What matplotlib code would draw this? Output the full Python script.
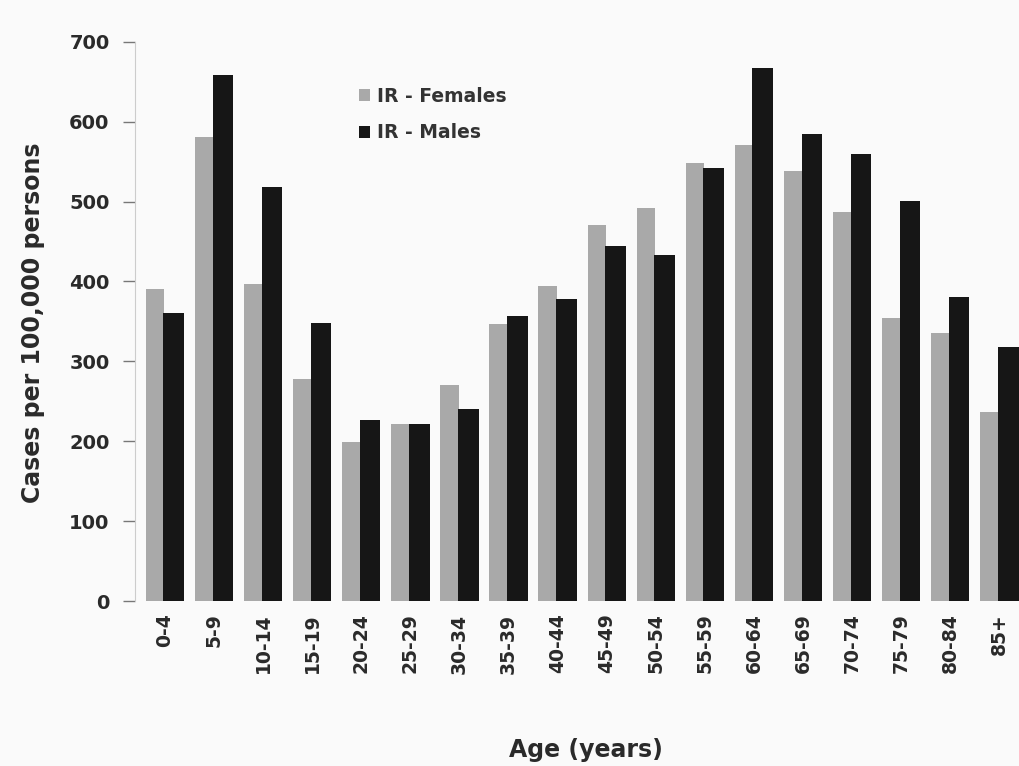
import numpy as np
import matplotlib
matplotlib.use('Agg')
import matplotlib.pyplot as plt

plt.rcParams['font.family'] = ['DejaVu Sans']
plt.rcParams['font.weight'] = 'bold'
plt.rcParams['axes.labelweight'] = 'bold'

ages = ['0-4', '5-9', '10-14', '15-19', '20-24', '25-29', '30-34', '35-39', '40-44',
        '45-49', '50-54', '55-59', '60-64', '65-69', '70-74', '75-79', '80-84', '85+']
females = [391, 581, 397, 278, 199, 221, 271, 347, 394, 471, 492, 548, 571, 538, 487, 354, 335, 236]
males = [360, 658, 518, 348, 226, 221, 240, 357, 378, 444, 433, 542, 667, 585, 560, 501, 381, 318]

fig = plt.figure(figsize=(10.19, 7.66), dpi=100, facecolor='#fafafa')
ax = fig.add_axes([0.132, 0.2154, 0.868, 0.73])
ax.set_facecolor('#fafafa')

x = np.arange(len(ages))
ax.bar(x - 0.2, females, width=0.38, color='#a9a9a9', label='IR - Females')
ax.bar(x + 0.18, males, width=0.42, color='#161616', label='IR - Males')

ax.set_xlim(-0.62, 17.4)
ax.set_ylim(0, 700)
ax.set_yticks(range(0, 701, 100))
ax.set_xticks(x)
ax.set_xticklabels(ages, rotation=90, fontsize=13.5, color='#2a2a2a')
ax.tick_params(axis='x', length=0, pad=9)
ax.tick_params(axis='y', length=9, width=1, color='#777777', pad=9, labelsize=14,
               labelcolor='#2a2a2a')

for s in ['top', 'right', 'bottom']:
    ax.spines[s].set_visible(False)
ax.spines['left'].set_color('#cccccc')
ax.spines['left'].set_linewidth(0.8)

ax.set_ylabel('Cases per 100,000 persons', fontsize=17, color='#2a2a2a')
ax.yaxis.set_label_coords(-0.101, 0.497)
ax.set_xlabel('Age (years)', fontsize=17, color='#2a2a2a')
ax.xaxis.set_label_coords(0.51, -0.245)

ax.legend(loc='upper left', bbox_to_anchor=(0.235, 0.95), frameon=False, fontsize=13.5,
          handlelength=0.6, handleheight=0.6, handletextpad=0.35, labelspacing=0.95,
          labelcolor='#333333')

fig.savefig('out.png', dpi=100, facecolor=fig.get_facecolor())
